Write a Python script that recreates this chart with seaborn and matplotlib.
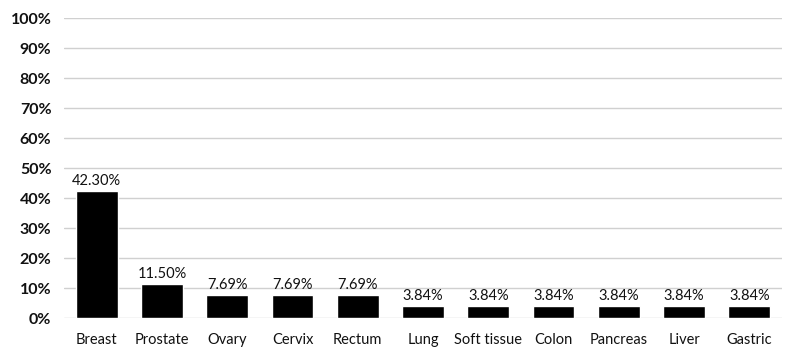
import matplotlib
matplotlib.use("Agg")
import matplotlib.pyplot as plt
import seaborn as sns
import pandas as pd
from matplotlib.ticker import FuncFormatter

sites = ["Breast", "Prostate", "Ovary", "Cervix", "Rectum", "Lung",
         "Soft tissue", "Colon", "Pancreas", "Liver", "Gastric"]
percent = [42.30, 11.50, 7.69, 7.69, 7.69, 3.84, 3.84, 3.84, 3.84, 3.84, 3.84]
value_labels = ["42.30%", "11.50%", "7.69%", "7.69%", "7.69%", "3.84%",
                "3.84%", "3.84%", "3.84%", "3.84%", "3.84%"]

sns.set_style("white")
plt.rcParams["font.family"] = ["Lato", "DejaVu Sans"]

df = pd.DataFrame({"site": sites, "percent": percent})

fig = plt.figure(figsize=(7.89, 3.52), dpi=100)
ax = fig.add_axes([64 / 789, 34 / 352, 718 / 789, 300 / 352])

sns.barplot(data=df, x="site", y="percent", color="black", width=0.64,
            saturation=1, ax=ax, zorder=3)

ax.set_ylim(0, 100)
ax.set_yticks(range(0, 101, 10))
ax.yaxis.set_major_formatter(FuncFormatter(lambda v, _: f"{int(v)}%"))
ax.grid(axis="y", color="#d0d0d0", linewidth=1, zorder=0)
ax.set_axisbelow(True)
for s in ax.spines.values():
    s.set_visible(False)
ax.set_xlabel("")
ax.set_ylabel("")
ax.tick_params(axis="y", length=0, pad=9, labelsize=11.5, labelcolor="#111111")
ax.tick_params(axis="x", length=0, pad=11, labelsize=10.5, labelcolor="#111111")
for lab in ax.get_yticklabels():
    lab.set_fontweight("bold")

for i, (v, t) in enumerate(zip(percent, value_labels)):
    ax.text(i, v + 1.0, t, ha="center", va="bottom", fontsize=10.5, color="#111111")

fig.savefig("out.png", dpi=100)
